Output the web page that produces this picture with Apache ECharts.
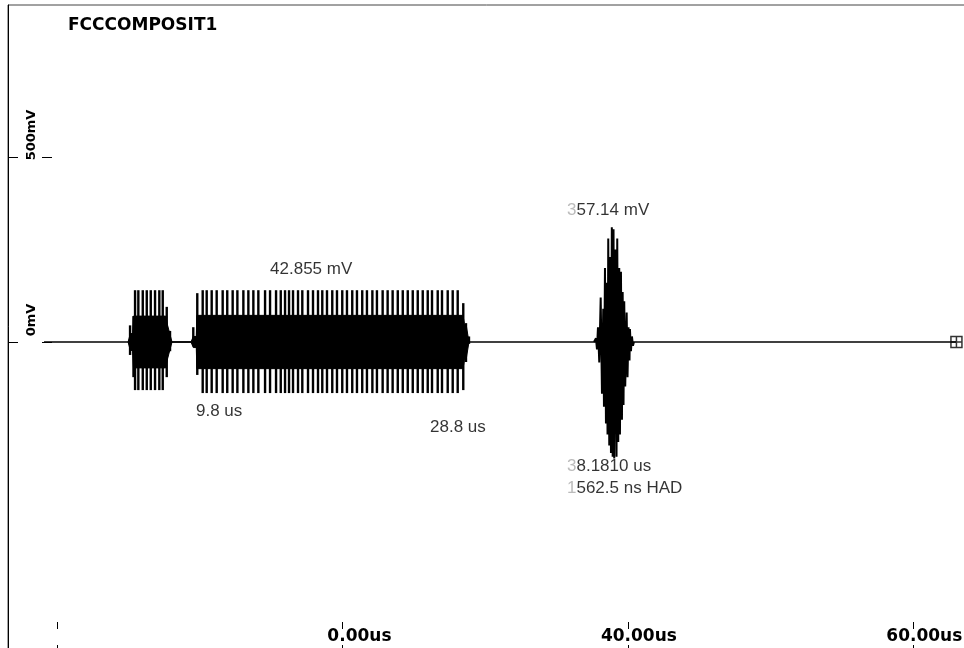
<!DOCTYPE html>
<html><head><meta charset="utf-8">
<script src="https://cdn.jsdelivr.net/npm/echarts@6/dist/echarts.min.js"></script>
<style>html,body{margin:0;padding:0;background:#fff}#c{width:964px;height:648px}</style>
</head><body><div id="c"></div>
<script>
// ---------- data ----------
const chartTitle = 'FCCCOMPOSIT1';
const xTickValues = [0, 20, 40, 60];
const xTickLabels = ['', '0.00us', '40.00us', '60.00us'];
const yTickValues = [0, 500];
const yTickLabels = ['0mV', '500mV'];

// flat trace (us)
const traceSpan = [-0.91, 63.0];
const cursorTime = 63.03;

// burst 1 / burst 2 dense-band envelope (us, mV)
const burst1EnvTime = [4.98, 5.12, 5.30, 5.36, 7.62, 7.75, 7.92, 8.06];
const burst1EnvAmp  = [0, 20, 25, 70, 70, 45, 20, 0];
const burst2EnvTime = [9.39, 9.55, 9.76, 9.80, 28.45, 28.55, 28.70, 28.87];
const burst2EnvAmp  = [0, 15, 15, 72, 72, 50, 40, 0];

// burst 1 spikes: time (us), top (mV), bottom (mV)
const burst1SpikeTime = [5.12, 5.36, 5.47, 5.70, 6.01, 6.29, 6.57, 6.87, 7.17, 7.41, 7.69, 7.92];
const burst1SpikeTop  = [45, 70, 140, 140, 140, 140, 140, 140, 140, 140, 95, 30];
const burst1SpikeBot  = [-35, -95, -130, -130, -130, -130, -130, -130, -130, -130, -95, -25];

// burst 2 spikes
const burst2SpikeTime = [9.55, 9.83, 10.21, 10.49, 10.84, 11.19, 11.61, 11.93, 12.31, 12.64, 13.06, 13.41,
  13.76, 14.11, 14.58, 14.93, 15.35, 15.68, 15.98, 16.26, 16.54, 16.89, 17.19, 17.59, 17.94, 18.29,
  18.59, 18.92, 19.29, 19.62, 19.99, 20.32, 20.69, 21.02, 21.39, 21.72, 22.10, 22.42, 22.82, 23.17,
  23.52, 23.88, 24.23, 24.58, 24.93, 25.28, 25.63, 25.98, 26.28, 26.68, 26.98, 27.38, 27.73, 28.08,
  28.47, 28.66, 28.87];
const burst2SpikeTop = [40, 132, 140, 140, 140, 140, 140, 140, 140, 140, 140, 140,
  140, 140, 140, 140, 140, 140, 140, 140, 140, 140, 140, 140, 140, 140,
  140, 140, 140, 140, 140, 140, 140, 140, 140, 140, 140, 140, 140, 140,
  140, 140, 140, 140, 140, 140, 140, 140, 140, 140, 140, 140, 140, 140,
  105, 51, 15];
const burst2SpikeBot = [-10, -89, -138, -138, -138, -138, -138, -138, -138, -138, -138, -138,
  -138, -138, -138, -138, -138, -138, -138, -138, -138, -138, -138, -138, -138, -138,
  -138, -138, -138, -138, -138, -138, -138, -138, -138, -138, -138, -138, -138, -138,
  -138, -138, -138, -138, -138, -138, -138, -138, -138, -138, -138, -138, -138, -138,
  -130, -54, -5];

// burst 3 waveform peaks (us, mV)
const burst3Time = [37.63, 37.77, 37.84, 37.91, 38.00, 38.10, 38.19, 38.28, 38.33, 38.40, 38.47, 38.52,
  38.58, 38.63, 38.70, 38.75, 38.82, 38.88, 38.94, 39.00, 39.05, 39.12, 39.21, 39.26, 39.33, 39.40,
  39.45, 39.52, 39.59, 39.64, 39.70, 39.75, 39.82, 39.92, 39.98, 40.05, 40.12, 40.15, 40.22, 40.29,
  40.36, 40.43];
const burst3Value = [0, 10, -20, 40, -55, 120, -140, 90, -175, 200, -220, 160,
  -250, 280, -280, 230, -300, 310, -310, 305, -315, 250, -310, 280, -270, 200,
  -250, 190, -210, 135, -170, 110, -120, 80, -95, 40, -50, 35, -25, 15,
  -10, 0];

// annotations
const annotationTexts = ['42.855 mV', '9.8 us', '28.8 us', '357.14 mV', '38.1810 us', '1562.5 ns HAD'];

// ---------- layout / style ----------
const annotationAnchors = [[14.93, 197], [9.74, -186], [26.14, -230], [35.74, 357], [35.74, -335], [35.74, -395]];
const annotationFaintFirst = [false, false, false, true, true, true];
const X_MIN = -3.434, X_MAX = 63.63, Y_MIN = -829.7, Y_MAX = 910.8;

const zip2 = (a, b) => a.map((v, i) => [v, b[i]]);
const spikes = (t, top, bot) => t.map((v, i) => [v, top[i], bot[i]]);
const envUpper = zip2(burst1EnvTime, burst1EnvAmp).concat(zip2(burst2EnvTime, burst2EnvAmp));
const envLower = envUpper.map(p => [p[0], -p[1]]);
const spikeData = spikes(burst1SpikeTime, burst1SpikeTop, burst1SpikeBot)
  .concat(spikes(burst2SpikeTime, burst2SpikeTop, burst2SpikeBot));

const labelFont = 'DejaVu Sans';
function xLabel(value) {
  const i = xTickValues.indexOf(value);
  const s = i >= 0 ? xTickLabels[i] : '';
  if (!s) return '';
  const k = s.indexOf('.');
  const left = s.slice(0, k), right = s.slice(k + 1);
  return '{h|' + right + '}{v|' + left + '.' + right + '}{h|' + left + '}';
}
const xRich = {
  v: { fontFamily: labelFont, fontWeight: 'bold', fontSize: 17, color: '#000' },
  h: { fontFamily: labelFont, fontWeight: 'bold', fontSize: 17, color: 'rgba(0,0,0,0)' }
};
const yRich = {
  v: { fontFamily: labelFont, fontWeight: 'bold', fontSize: 13, color: '#000' },
  h: { width: 44, fontSize: 13 }
};
const noteStyle = { fontFamily: 'Liberation Sans', fontSize: 17, color: '#000' };
const noteRich = {
  f: { fontFamily: 'Liberation Sans', fontSize: 17, color: '#aaa' },
  n: noteStyle
};

const chart = echarts.init(document.getElementById('c'), null, { renderer: 'canvas' });
chart.setOption({
  animation: false,
  backgroundColor: '#fff',
  title: {
    text: chartTitle, left: 68, top: 17, padding: 0,
    textStyle: { fontFamily: labelFont, fontWeight: 'bold', fontSize: 17, color: '#000' }
  },
  grid: { left: 8, top: 5, right: -1, bottom: -1, show: true, borderColor: '#444', borderWidth: 1,
    backgroundColor: '#fff', outerBoundsMode: 'none', containLabel: false },
  xAxis: [{
    type: 'value', min: X_MIN, max: X_MAX, position: 'bottom',
    axisLine: { show: false, onZero: false }, splitLine: { show: false },
    axisTick: { show: true, inside: true, length: 4, customValues: xTickValues, lineStyle: { color: '#000' } },
    axisLabel: { show: true, inside: true, margin: 4, customValues: xTickValues, formatter: xLabel, rich: xRich }
  }, {
    type: 'value', min: X_MIN, max: X_MAX, position: 'bottom', offset: -20,
    axisLine: { show: false, onZero: false }, splitLine: { show: false },
    axisTick: { show: true, inside: true, length: 7, customValues: xTickValues, lineStyle: { color: '#000' } },
    axisLabel: { show: false }
  }],
  yAxis: [{
    type: 'value', min: Y_MIN, max: Y_MAX, position: 'left',
    axisLine: { show: true, onZero: false, lineStyle: { color: '#000' } }, splitLine: { show: false },
    axisTick: { show: true, inside: true, length: 10, customValues: yTickValues, lineStyle: { color: '#000' } },
    axisLabel: {
      show: true, inside: true, margin: 24, rotate: 90, align: 'center', verticalAlign: 'middle',
      customValues: yTickValues,
      formatter: v => '{h|}{v|' + (yTickLabels[yTickValues.indexOf(v)] || '') + '}',
      rich: yRich
    }
  }, {
    type: 'value', min: Y_MIN, max: Y_MAX, position: 'left', offset: -34,
    axisLine: { show: false, onZero: false }, splitLine: { show: false },
    axisTick: { show: true, inside: true, length: 10, customValues: yTickValues, lineStyle: { color: '#000' } },
    axisLabel: { show: false }
  }],
  series: [
    { type: 'line', name: 'trace', data: [[traceSpan[0], 0], [traceSpan[1], 0]], symbol: 'none',
      lineStyle: { color: '#000', width: 1.5 }, z: 2 },
    { type: 'line', name: 'envUpper', data: envUpper, symbol: 'none',
      lineStyle: { color: '#000', width: 1 }, areaStyle: { color: '#000', opacity: 1 }, z: 3 },
    { type: 'line', name: 'envLower', data: envLower, symbol: 'none',
      lineStyle: { color: '#000', width: 1 }, areaStyle: { color: '#000', opacity: 1 }, z: 3 },
    { type: 'custom', name: 'spikes', data: spikeData, clip: false, encode: { x: 0, y: [1, 2] },
      renderItem: (params, api) => {
        const p1 = api.coord([api.value(0), api.value(1)]);
        const p2 = api.coord([api.value(0), api.value(2)]);
        return { type: 'line', shape: { x1: p1[0], y1: p1[1], x2: p2[0], y2: p2[1] },
          style: { stroke: '#000', lineWidth: 2.4 } };
      }, z: 4 },
    { type: 'line', name: 'burst3', data: zip2(burst3Time, burst3Value), symbol: 'none',
      lineStyle: { color: '#000', width: 2 }, z: 4 },
    { type: 'scatter', name: 'cursor', data: [[cursorTime, 0]],
      symbol: 'path://M0,0H10V10H0Z M5,0V10 M0,5H10', symbolSize: 11,
      itemStyle: { color: 'rgba(0,0,0,0)', borderColor: '#000', borderWidth: 1.5 }, z: 5 },
    { type: 'scatter', name: 'notes', symbolSize: 0, z: 6,
      data: annotationTexts.map((t, i) => ({ name: t, value: annotationAnchors[i] })),
      label: { show: true, position: 'right', distance: 0,
        formatter: p => annotationFaintFirst[p.dataIndex]
          ? '{f|' + p.name.charAt(0) + '}{n|' + p.name.slice(1) + '}'
          : '{n|' + p.name + '}',
        rich: noteRich, ...noteStyle } }
  ]
});
</script></body></html>
